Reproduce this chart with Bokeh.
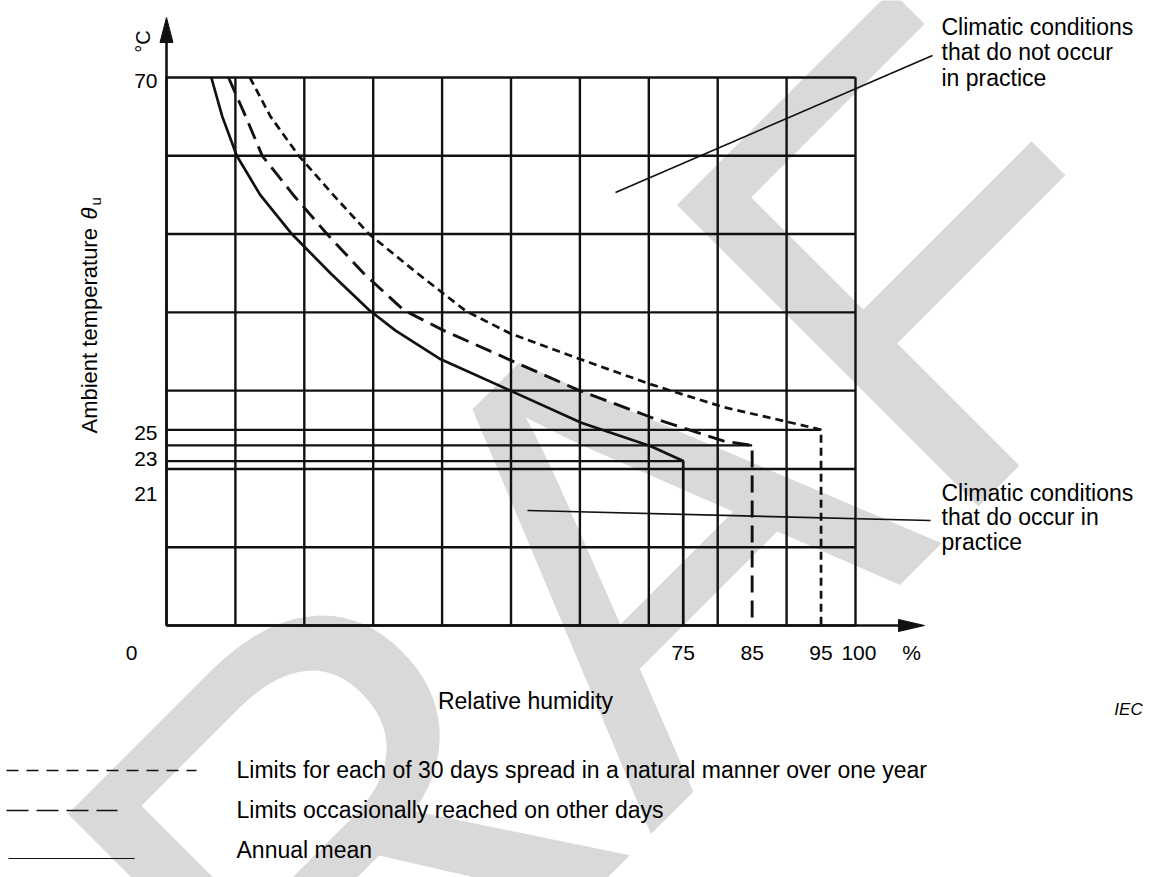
import math
from bokeh.plotting import figure
from bokeh.models import FixedTicker, LinearAxis, Range1d, Grid
from bokeh.core.properties import value
from bokeh.embed import file_html
from bokeh.resources import INLINE

# ------------------------------------------------------------------ data
RH_GRID = [0, 10, 20, 30, 40, 50, 60, 70, 80, 90, 100]      # relative humidity, %
T_GRID = [0, 10, 20, 30, 40, 50, 60, 70]                    # ambient temperature, °C

# Limits for each of 30 days spread in a natural manner over one year (short dashes)
DAYS30_RH = [12.1, 15.1, 19.2, 24.2, 29.4, 36.4, 43.4, 49.9, 60.1, 70.3, 80.8, 91.7, 95.0, 95.0]
DAYS30_T = [70.0, 65.0, 60.0, 55.0, 50.0, 45.0, 40.2, 37.3, 34.0, 30.8, 27.9, 25.7, 25.0, 0.0]
# Limits occasionally reached on other days (long dashes)
OCCAS_RH = [9.0, 11.5, 13.9, 18.4, 23.3, 28.6, 34.4, 40.2, 49.9, 59.7, 70.3, 80.7, 85.0, 85.0]
OCCAS_T = [70.0, 65.0, 60.0, 55.0, 50.0, 45.0, 40.3, 37.7, 33.9, 30.1, 26.6, 23.6, 23.0, 0.0]
# Annual mean (solid)
MEAN_RH = [6.5, 8.1, 10.2, 13.6, 18.2, 23.8, 29.4, 33.2, 39.8, 49.9, 60.2, 70.3, 75.0, 75.0]
MEAN_T = [70.0, 65.0, 60.0, 55.0, 50.0, 45.0, 40.3, 37.7, 34.0, 30.0, 25.9, 22.9, 21.0, 0.0]

PLATEAU_RH = [95, 85, 75]
PLATEAU_T = [25, 23, 21]

X_TICK_LABELS = ["0", "75", "85", "95", "100", "%"]
Y_TICK_LABELS = ["70", "25", "23", "21"]

LEGEND_LABELS = [
    "Limits for each of 30 days spread in a natural manner over one year",
    "Limits occasionally reached on other days",
    "Annual mean",
]
NOTE_NOT_OCCUR = ["Climatic conditions", "that do not occur", "in practice"]
NOTE_OCCUR = ["Climatic conditions", "that do occur in", "practice"]

# ------------------------------------------------------------------ layout
W, H = 1152, 877
PX_RH = 6.89            # pixels per % RH
PX_T = 548.0 / 70.0     # pixels per °C
ORIG_X, ORIG_Y = 166, 625   # picture pixel of the origin


def X(px):
    return (px - ORIG_X) / PX_RH


def Y(py):
    return (ORIG_Y - py) / PX_T


# label placement (data units) of the tick texts
X_TICK_AT = [X(131), 75, 85, 95, 100.5, X(911)]
Y_TICK_AT = [Y(80), Y(432), Y(458), Y(493)]

FONT = "Liberation Sans"
INK = "#111111"

p = figure(width=W, height=H,
           x_range=Range1d(X(0), X(W)),
           y_range=Range1d(Y(H), Y(0)),
           x_axis_location=None, y_axis_location=None,
           toolbar_location=None, output_backend="svg",
           min_border=0, outline_line_color=None)
p.background_fill_color = "white"
p.border_fill_color = "white"
p.center = [r for r in p.center if not isinstance(r, Grid)]

# watermark
p.text(x=[X(595)], y=[Y(585)], text=["DRAFT"], angle=math.pi / 4,
       text_font=value(FONT), text_font_size="620px", text_color="#d9d9d9",
       text_align="center", text_baseline="middle", level="image")

# grid
p.segment(x0=RH_GRID, y0=[0] * len(RH_GRID), x1=RH_GRID, y1=[70] * len(RH_GRID),
          line_color=INK, line_width=2.4)
p.segment(x0=[0] * len(T_GRID), y0=T_GRID, x1=[100] * len(T_GRID), y1=T_GRID,
          line_color=INK, line_width=2.4)

# plateau reference lines
p.segment(x0=[0] * len(PLATEAU_T), y0=PLATEAU_T, x1=PLATEAU_RH, y1=PLATEAU_T,
          line_color=INK, line_width=2.2)

# curves
p.line(DAYS30_RH, DAYS30_T, line_color=INK, line_width=2.7, line_dash="8 5")
p.line(OCCAS_RH, OCCAS_T, line_color=INK, line_width=2.9, line_dash="17 8")
p.line(MEAN_RH, MEAN_T, line_color=INK, line_width=2.7)

# axis lines with arrow heads
p.segment(x0=[0, 0], y0=[0, 0], x1=[0, X(905)], y1=[Y(35), 0],
          line_color=INK, line_width=2.6)
p.patches(xs=[[X(166), X(159.5), X(172.5)], [X(924), X(898), X(898)]],
          ys=[[Y(17), Y(42), Y(42)], [Y(625), Y(619), Y(631)]],
          fill_color=INK, line_color=INK)

# leader lines of the notes
p.segment(x0=[X(615), X(527)], y0=[Y(192), Y(510)],
          x1=[X(932), X(930)], y1=[Y(55), Y(520)],
          line_color=INK, line_width=1.7)

# axes (tick labels)
xaxis = LinearAxis(fixed_location=0, ticker=FixedTicker(ticks=X_TICK_AT),
                   major_label_overrides=dict(zip(X_TICK_AT, X_TICK_LABELS)),
                   axis_line_color=None, major_tick_line_color=None,
                   minor_tick_line_color=None, major_tick_out=0, major_tick_in=0,
                   major_label_standoff=15, major_label_text_font=FONT,
                   major_label_text_font_size="21px", major_label_text_color="black")
yaxis = LinearAxis(fixed_location=0, ticker=FixedTicker(ticks=Y_TICK_AT),
                   major_label_overrides=dict(zip(Y_TICK_AT, Y_TICK_LABELS)),
                   axis_line_color=None, major_tick_line_color=None,
                   minor_tick_line_color=None, major_tick_out=0, major_tick_in=0,
                   major_label_standoff=9, major_label_text_font=FONT,
                   major_label_text_font_size="21px", major_label_text_color="black")
p.add_layout(xaxis, "below")
p.add_layout(yaxis, "left")


def txt(px, py, s, size, align="left", angle=0.0, style="normal", baseline="middle"):
    p.text(x=[X(px)], y=[Y(py)], text=[s], angle=angle,
           text_font=value(FONT), text_font_size=f"{size}px",
           text_font_style=style, text_color="black",
           text_align=align, text_baseline=baseline)


# axis titles
txt(142, 41, "°C", 20, align="center", angle=math.pi / 2)
txt(89, 433, "Ambient temperature", 22, align="left", angle=math.pi / 2)
txt(89, 219, "θ", 22, align="left", angle=math.pi / 2, style="italic")
txt(95, 205, "u", 15, align="left", angle=math.pi / 2)
txt(525, 700, "Relative humidity", 23, align="center")
txt(1128, 709, "IEC", 17, align="center", style="italic")

# notes
for i, s in enumerate(NOTE_NOT_OCCUR):
    txt(941, 26 + 25.5 * i, s, 23)
for i, s in enumerate(NOTE_OCCUR):
    txt(941, 492 + 24.5 * i, s, 23)

# legend
leg_y = [769, 809, 849]
p.line([X(6), X(196)], [Y(770), Y(770)], line_color=INK, line_width=1.3, line_dash="12 8")
p.line([X(6), X(117)], [Y(810), Y(810)], line_color=INK, line_width=1.5, line_dash="22 8")
p.line([X(8), X(134)], [Y(858), Y(858)], line_color=INK, line_width=1.2)
for yy, s in zip(leg_y, LEGEND_LABELS):
    txt(236, yy, s, 23)

open("out.html", "w").write(file_html(p, INLINE))
